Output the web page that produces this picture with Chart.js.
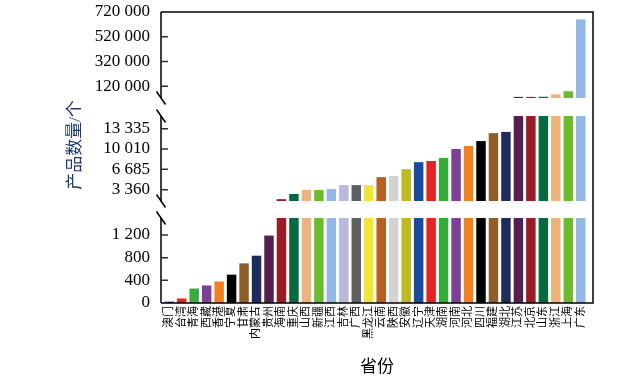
<!DOCTYPE html>
<html>
<head>
<meta charset="utf-8">
<script src="https://cdn.jsdelivr.net/npm/chart.js@4/dist/chart.umd.min.js"></script>
<style>
    html, body { margin: 0; padding: 0; background: #fff; }
    #wrap { width: 632px; height: 384px; }
</style>
</head>
<body>
<div id="wrap"><canvas id="chart"></canvas></div>
<script>
const provinces = [
    "澳门", "台湾", "青海", "西藏", "香港", "宁夏", "甘肃", "内蒙古", "贵州", "海南",
    "重庆", "山西", "新疆", "江西", "吉林", "广西", "黑龙江", "云南", "陕西", "安徽",
    "辽宁", "天津", "湖南", "河南", "河北", "四川", "福建", "湖北", "江苏", "北京",
    "山东", "浙江", "上海", "广东",
]
const productCounts = [
    25, 80, 255, 310, 380, 500, 700, 835, 1190, 1800,
    2650, 3300, 3300, 3450, 4100, 4100, 4100, 5400, 5600, 6700,
    7850, 8050, 8550, 10000, 10500, 11300, 12600, 12800, 34000, 34000,
    35000, 55000, 80000, 660000,
]
const palette = [
    "#1c4595", "#e52421", "#36ac3a", "#7c4196", "#f08121", "#000000", "#8d5f26", "#1f2b5b", "#561d4f", "#981c24",
    "#066a3e", "#ecb37c", "#6cba2d", "#93b8e3", "#bab8dd", "#5f5f5f", "#f1e637", "#b85e21", "#d3d3d3", "#bdba22",
    "#1b4b9e", "#e52421", "#36ac3a", "#7c4196", "#f08121", "#000000", "#8d5f26", "#1f2b5b", "#561d4f", "#981c24",
    "#066a3e", "#ecb37c", "#6cba2d", "#93b8e3",
]
// broken axis: [min, max] of each piece, and its tick values
const lowRange = [0, 1500]
const midRange = [1500, 15400]
const highRange = [25000, 720000]
const lowTicks = [0, 400, 800, 1200]
const midTicks = [3360, 6685, 10010, 13335]
const highTicks = [120000, 320000, 520000, 720000]

const FONT = "'Liberation Serif', 'Noto Sans CJK SC', serif"
const AXIS_W = 163

const pieceData = (range) =>
    productCounts.map((v) => {
        if (range[0] === 0) return Math.min(v, range[1])
        return v > range[0] ? [range[0], Math.min(v, range[1])] : null
    })

const fmt = (v) => String(v).replace(/\B(?=(\d{3})+(?!\d))/g, " ")

const fixWidth = (axis) => {
    axis.width = AXIS_W
    axis.paddingTop = 0
    axis.paddingBottom = 0
}

const pieceAxis = (range, ticks, weight) => ({
    type: "linear",
    position: "left",
    stack: "v",
    stackWeight: weight,
    min: range[0],
    max: range[1],
    grid: { display: false, drawTicks: false },
    border: { display: false },
    afterBuildTicks: (axis) => {
        axis.ticks = ticks.map((value) => ({ value }))
    },
    afterFit: fixWidth,
    ticks: {
        autoSkip: false,
        padding: 13,
        color: "#000",
        font: { family: FONT, size: 17 },
        callback: (v) => fmt(v),
    },
})

const gapAxis = (weight) => ({
    type: "linear",
    position: "left",
    stack: "v",
    stackWeight: weight,
    min: 0,
    max: 1,
    grid: { display: false, drawTicks: false },
    border: { display: false },
    ticks: { display: false },
    afterFit: fixWidth,
})

const brokenAxisPlugin = {
    id: "brokenAxis",
    afterDraw(chart) {
        const { ctx, scales } = chart
        const L = 161
        const R = 593
        const T = scales.yHigh.top
        const B = scales.yLow.bottom
        ctx.save()
        ctx.strokeStyle = "#000"
        ctx.lineWidth = 1.5
        ctx.beginPath()
        ctx.moveTo(L, T)
        ctx.lineTo(R, T)
        ctx.lineTo(R, B)
        ctx.lineTo(L, B)
        ;[scales.yHigh, scales.yMid, scales.yLow].forEach((s) => {
            ctx.moveTo(L, s.top)
            ctx.lineTo(L, s.bottom)
        })
        ctx.stroke()

        // break marks
        ctx.beginPath()
        ;[scales.yHigh.bottom, scales.yMid.top, scales.yMid.bottom, scales.yLow.top].forEach((y) => {
            ctx.moveTo(L - 4.5, y - 6.5)
            ctx.lineTo(L + 4.5, y + 6.5)
        })
        ctx.stroke()

        // inward tick marks
        ctx.strokeStyle = "#333"
        ctx.beginPath()
        ;[scales.yHigh, scales.yMid, scales.yLow].forEach((s) => {
            s.ticks.forEach((t) => {
                const y = s.getPixelForValue(t.value)
                if (Math.abs(y - s.top) < 1 && s.id === "yHigh") return
                ctx.moveTo(L, y)
                ctx.lineTo(L + 7, y)
            })
        })
        ctx.stroke()

        // axis titles
        ctx.fillStyle = "#000"
        ctx.font = "17px " + FONT
        ctx.textAlign = "center"
        ctx.textBaseline = "middle"
        ctx.fillText("省份", 377, 368)
        ctx.translate(76, 145)
        ctx.rotate(-Math.PI / 2)
        ctx.fillStyle = "#1e3a6e"
        ctx.fillText("产品数量/个", 0, 0)
        ctx.restore()
    },
}

const barDefaults = {
    backgroundColor: palette,
    barPercentage: 0.76,
    categoryPercentage: 1,
    grouped: false,
}

new Chart(document.getElementById("chart"), {
    type: "bar",
    data: {
        labels: provinces,
        datasets: [
            { ...barDefaults, data: pieceData(lowRange), yAxisID: "yLow" },
            { ...barDefaults, data: pieceData(midRange), yAxisID: "yMid" },
            { ...barDefaults, data: pieceData(highRange), yAxisID: "yHigh" },
        ],
    },
    options: {
        responsive: true,
        maintainAspectRatio: false,
        animation: false,
        layout: {
            padding: { top: 12, right: 45, bottom: 0, left: 0 },
        },
        plugins: {
            legend: { display: false },
            tooltip: { enabled: false },
        },
        scales: {
            x: {
                type: "category",
                grid: { display: false, drawTicks: false },
                border: { display: false },
                ticks: {
                    autoSkip: false,
                    minRotation: 90,
                    maxRotation: 90,
                    padding: 3,
                    color: "#000",
                    font: { family: FONT, size: 11 },
                },
                afterFit: (axis) => {
                    axis.height = 81
                },
            },
            yLow: pieceAxis(lowRange, lowTicks, 85),
            gapLow: gapAxis(17),
            yMid: pieceAxis(midRange, midTicks, 85),
            gapHigh: gapAxis(18),
            yHigh: pieceAxis(highRange, highTicks, 86),
        },
    },
    plugins: [brokenAxisPlugin],
})
</script>
</body>
</html>
